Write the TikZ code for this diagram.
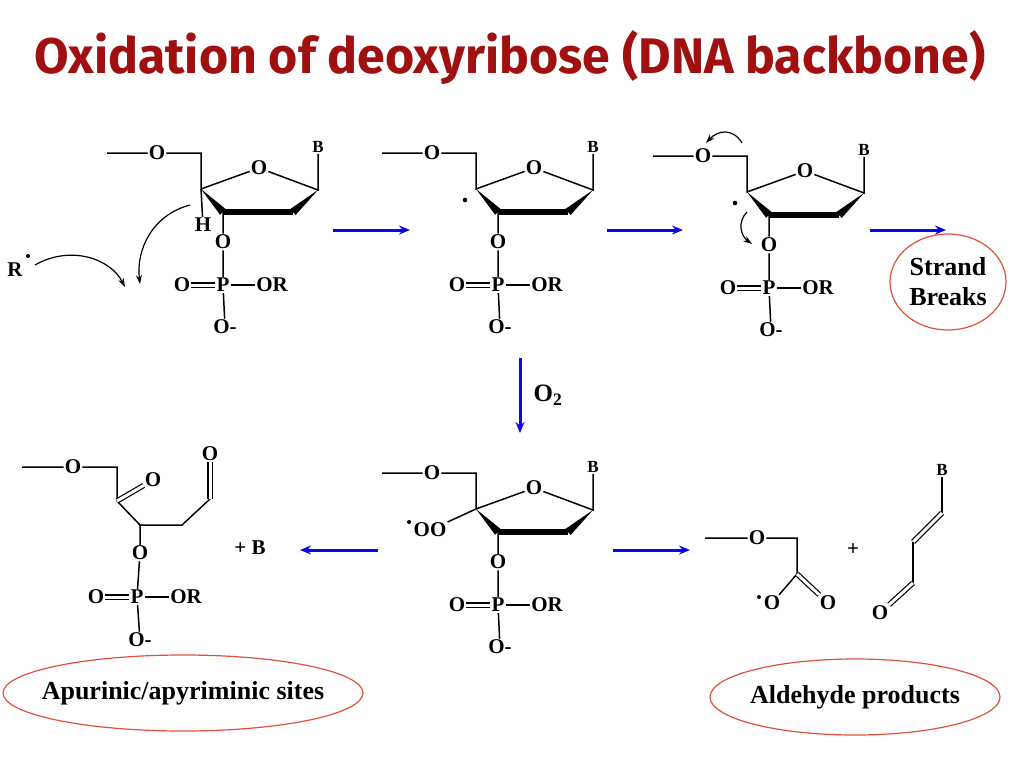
\documentclass[tikz,border=0pt]{standalone}
\usepackage{fontspec}
\setmainfont{Liberation Serif}
\newfontfamily\titlefont{Fira Sans}
\usetikzlibrary{arrows.meta, calc, shapes.geometric}
\definecolor{titlered}{RGB}{160,16,16}
\definecolor{ovalred}{RGB}{225,80,60}
\definecolor{arrowblue}{RGB}{10,10,230}

\tikzset{
  atom/.style={font=\bfseries\fontsize{21}{21}\selectfont, inner sep=1pt},
  atomsm/.style={font=\bfseries\fontsize{17}{17}\selectfont, inner sep=1pt},
  bond/.style={line width=1.5pt},
  dbond/.style={line width=1.2pt, double, double distance=3pt},
  react/.style={line width=3pt, arrowblue, -{Stealth[length=11pt, width=9pt]}},
  push/.style={line width=1.2pt, -{Stealth[length=9pt, width=6pt]}},
  oval/.style={font=\bfseries\fontsize{26}{30}\selectfont, align=center},
  ovalline/.style={draw=ovalred, line width=1.2pt}
}

% sugar + phosphate, origin at C4'
\newcommand{\sugar}[3]{%
  \begin{scope}[shift={(#2,#3)}]
    \coordinate (#1c4) at (0,0);
    \coordinate (#1c5) at (0,-36);
    \coordinate (#1c3) at (22,23);
    \coordinate (#1c2) at (92,23);
    \coordinate (#1c1) at (117,1);
    \coordinate (#1end) at (-94,-36);
    \node[atom] (#1o5) at (-44,-36) {O};
    \node[atom] (#1o4) at (58,-21) {O};
    \node[atomsm] (#1b) at (117,-42) {B};
    \node[atom] (#1o3) at (22,53) {O};
    \node[atom] (#1p) at (22,96) {P};
    \node[atom] (#1od) at (-19,96) {O};
    \node[atom] (#1or) at (71,96) {OR};
    \node[atom] (#1om) at (24,138) {O-};
    \draw[bond] (#1end) -- (#1o5) -- (#1c5) -- (#1c4) -- (#1o4) -- (#1c1) -- (#1b);
    \draw[bond, line width=5.5pt] (#1c3) -- (#1c2);
    \fill (#1c4) -- ($(#1c3)!4pt!90:(#1c4)$) -- ($(#1c3)!4pt!-90:(#1c4)$) -- cycle;
    \fill (#1c1) -- ($(#1c2)!4pt!90:(#1c1)$) -- ($(#1c2)!4pt!-90:(#1c1)$) -- cycle;
    \draw[bond] (#1c3) -- (#1o3) -- (#1p) -- (#1om);
    \draw[bond] (#1p) -- (#1or);
    \draw[dbond] (#1od) -- (#1p);
  \end{scope}}

\begin{document}
\begin{tikzpicture}[x=1pt, y=-1pt]
  \useasboundingbox (0,0) rectangle (1024,768);

  \node[titlered, font=\titlefont\bfseries\fontsize{50}{50}\selectfont] (title) at (510,58) {Oxidation of deoxyribose (DNA backbone)};

  % top row
  \sugar{a}{201}{189}
  \node[atom] (ah) at (203,225) {H};
  \draw[bond] (ac4) -- (ah);
  \node[atom] (ar) at (15,270) {R};
  \fill (28,256) circle (2);
  \coordinate (arfrom) at (35,265);
  \coordinate (arto) at (125,287);
  \draw[push] (arfrom) .. controls (70,245) and (110,258) .. (arto);
  \coordinate (ahfrom) at (190,205);
  \coordinate (ahto) at (140,284);
  \draw[push] (ahfrom) .. controls (152,215) and (136,250) .. (ahto);

  \sugar{b}{476}{189}
  \fill (465,200) circle (2.3);

  \sugar{c}{747}{192}
  \fill (735,203) circle (2.3);
  \coordinate (cpa) at (742,143);
  \coordinate (cpb) at (706,143);
  \draw[push] (cpa) .. controls (733,128) and (718,130) .. (cpb);
  \coordinate (cqa) at (747,212);
  \coordinate (cqb) at (752,244);
  \draw[push] (cqa) .. controls (737,222) and (741,236) .. (cqb);

  \node[oval] (strand) at (948,282) {Strand\\Breaks};
  \draw[ovalline] (strand.center) ellipse [x radius=58, y radius=48];

  \coordinate (s1a) at (333,230); \coordinate (s1b) at (410,230);
  \coordinate (s2a) at (607,230); \coordinate (s2b) at (683,230);
  \coordinate (s3a) at (870,230); \coordinate (s3b) at (946,230);
  \draw[react] (s1a) -- (s1b);
  \draw[react] (s2a) -- (s2b);
  \draw[react] (s3a) -- (s3b);

  \coordinate (oxa) at (520,358); \coordinate (oxb) at (520,433);
  \draw[react] (oxa) -- (oxb);
  \node[atom, font=\bfseries\fontsize{25}{25}\selectfont] (o2) at (548,395) {O\textsubscript{2}};

  % bottom middle
  \sugar{d}{476}{509}
  \fill (409,522) circle (2);
  \node[atom] (doo) at (430,530) {OO};
  \draw[bond] (dc4) -- (doo);

  \coordinate (l1a) at (378,550); \coordinate (l1b) at (300,550);
  \coordinate (r1a) at (613,550); \coordinate (r1b) at (690,550);
  \draw[react] (l1a) -- (l1b);
  \draw[react] (r1a) -- (r1b);

  % bottom left
  \coordinate (eend) at (22,467);
  \node[atom] (eo5) at (73,467) {O};
  \coordinate (ec5) at (117,467);
  \coordinate (ec4) at (117,501);
  \node[atom] (eo4) at (153,480) {O};
  \coordinate (ec3) at (140,525);
  \coordinate (ec2) at (182,525);
  \coordinate (ec1) at (210,499);
  \node[atom] (eo1) at (210,454) {O};
  \node[atom] (eo3) at (140,553) {O};
  \node[atom] (ep) at (137,597) {P};
  \node[atom] (eod) at (96,597) {O};
  \node[atom] (eor) at (186,597) {OR};
  \node[atom] (eom) at (140,640) {O-};
  \draw[bond] (eend) -- (eo5) -- (ec5) -- (ec4) -- (ec3) -- (ec2) -- (ec1);
  \draw[dbond] (ec4) -- (eo4);
  \draw[dbond] (ec1) -- (eo1);
  \draw[bond] (ec3) -- (eo3) -- (ep) -- (eom);
  \draw[bond] (ep) -- (eor);
  \draw[dbond] (eod) -- (ep);
  \node[atom] (plusb) at (250,548) {+ B};

  \node[oval] (apsite) at (183,693) {Apurinic/apyriminic sites};
  \draw[ovalline] (apsite.center) ellipse [x radius=180, y radius=38];

  % bottom right
  \coordinate (fend) at (705,538);
  \node[atom] (fo) at (757,538) {O};
  \coordinate (fc2) at (797,538);
  \coordinate (fc1) at (797,574);
  \node[atom] (fob) at (772,603) {O};
  \fill (759,597) circle (2);
  \node[atom] (fod) at (828,603) {O};
  \draw[bond] (fend) -- (fo) -- (fc2) -- (fc1) -- (fob);
  \draw[dbond] (fc1) -- (fod);
  \node[atom] (plus) at (853,550) {+};

  \node[atomsm] (gb) at (942,470) {B};
  \coordinate (gc1) at (942,513);
  \coordinate (gc2) at (913,542);
  \coordinate (gc3) at (913,583);
  \node[atom] (go) at (880,613) {O};
  \draw[bond] (gb) -- (gc1);
  \draw[dbond] (gc1) -- (gc2);
  \draw[bond] (gc2) -- (gc3);
  \draw[dbond] (gc3) -- (go);

  \node[oval] (aldehyde) at (855,697) {Aldehyde products};
  \draw[ovalline] (aldehyde.center) ellipse [x radius=145, y radius=38];
\end{tikzpicture}
\end{document}
